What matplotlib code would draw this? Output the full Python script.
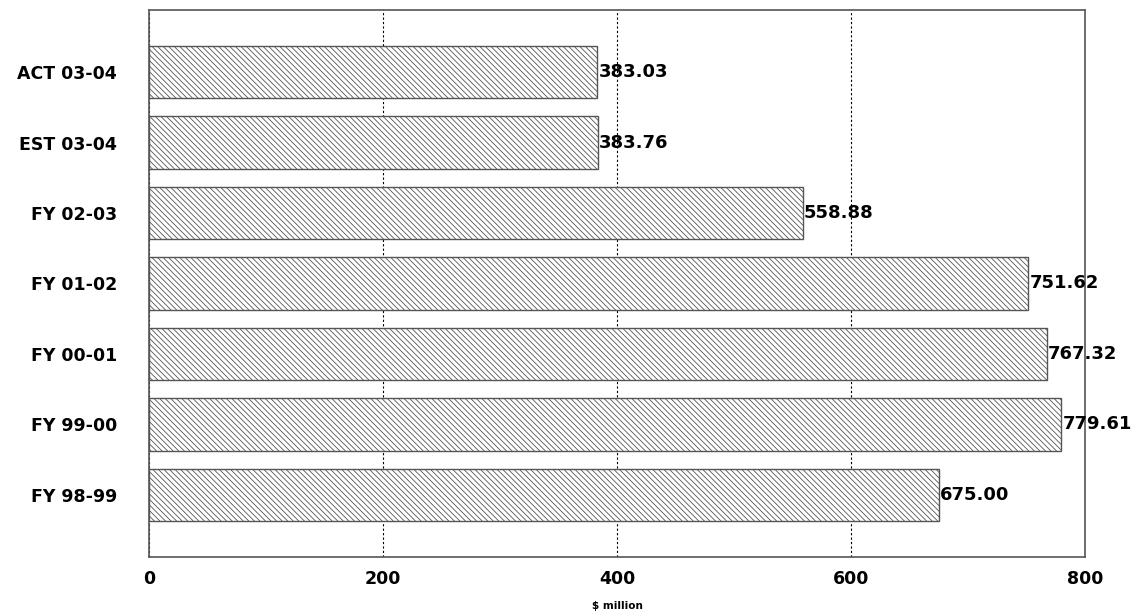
import matplotlib
matplotlib.use("Agg")
import matplotlib.pyplot as plt
import numpy as np

categories = ["FY 98-99", "FY 99-00", "FY 00-01", "FY 01-02", "FY 02-03", "EST 03-04", "ACT 03-04"]
values = [675.00, 779.61, 767.32, 751.62, 558.88, 383.76, 383.03]
xticks = [0, 200, 400, 600, 800]

plt.rcParams['font.family'] = ['DejaVu Sans']
plt.rcParams['font.weight'] = 'bold'
plt.rcParams['hatch.linewidth'] = 0.6
plt.rcParams['hatch.color'] = '#555555'

fig = plt.figure(figsize=(11.43, 6.14), dpi=100)
ax = fig.add_axes([149 / 1143, 1 - 557 / 614, (1085 - 149) / 1143, (557 - 10) / 614])

y = np.arange(len(categories))
ax.barh(y, values, height=0.75, color='white', edgecolor='#555555', linewidth=1.0,
        hatch='\\' * 6, zorder=2)

for yi, v in zip(y, values):
    ax.text(v + 1, yi, "%.2f" % v, va='center', ha='left', fontsize=13, fontweight='bold')

ax.set_xlim(0, 800)
ax.set_ylim(-0.88, len(categories) - 1 + 0.88)
ax.set_xticks(xticks)
ax.set_xticklabels([str(t) for t in xticks], fontsize=12.5, fontweight='bold')
ax.set_yticks(y)
ax.set_yticklabels(categories, fontsize=12.5, fontweight='bold')
ax.tick_params(axis='x', length=0, pad=9)
ax.tick_params(axis='y', length=0, pad=23)
ax.xaxis.grid(True, linestyle=(0, (2, 2)), color='black', linewidth=0.8, zorder=1)
ax.set_axisbelow(True)
for s in ax.spines.values():
    s.set_color('#555555')
    s.set_linewidth(1.2)
ax.set_xlabel("\\$ million", fontsize=7.5, fontweight='bold', labelpad=10)

fig.savefig("out.png", dpi=100)
